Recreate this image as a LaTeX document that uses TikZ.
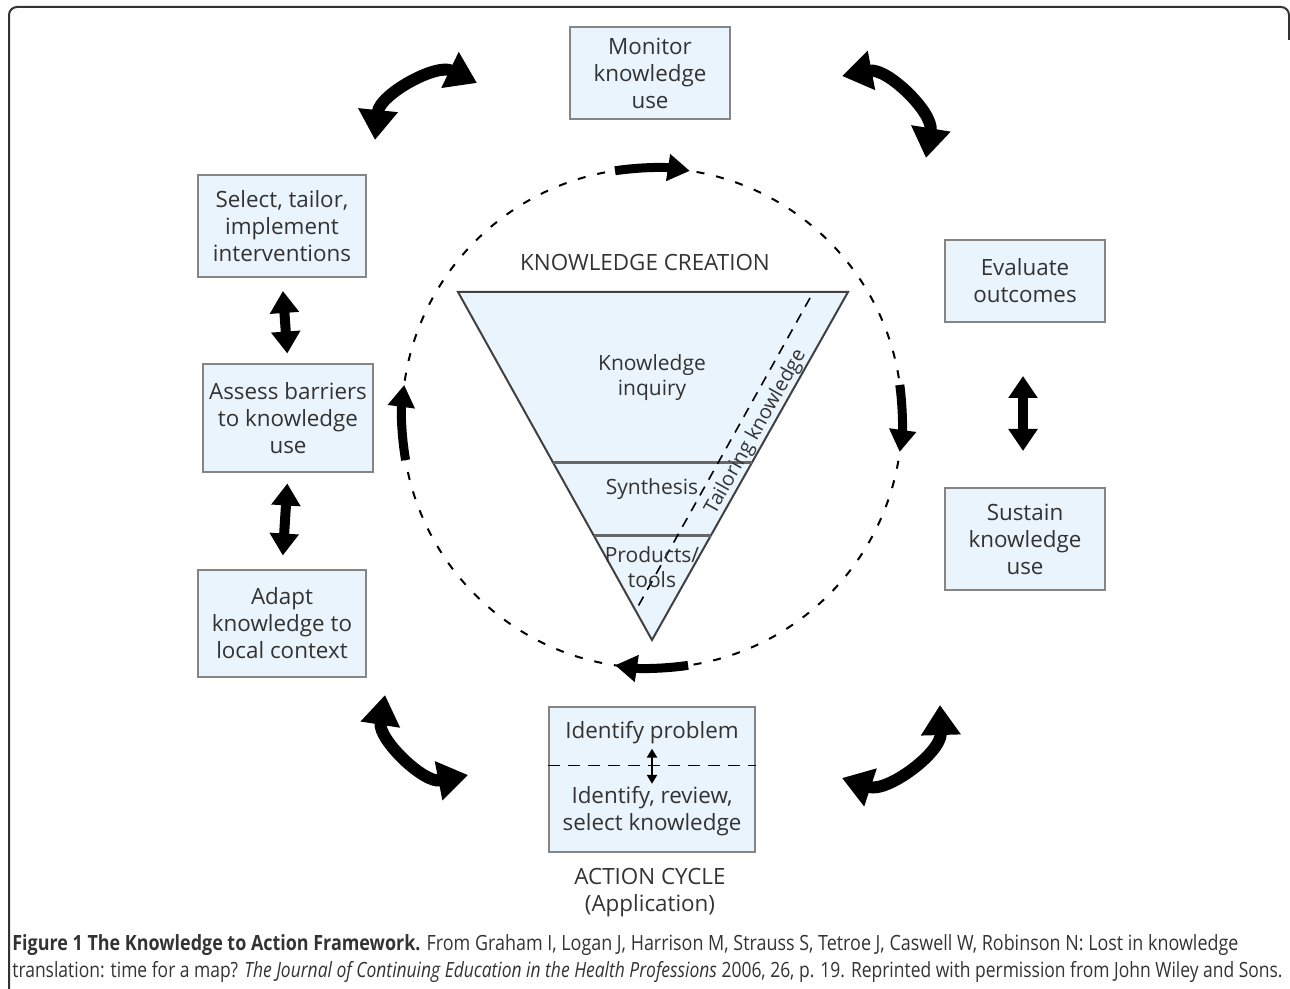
\documentclass[tikz,border=0pt]{standalone}
\usepackage{fontspec}
\usepackage{graphicx}
\setmainfont{Open Sans}
\usepackage{tikz}
\usetikzlibrary{arrows.meta,calc}

\definecolor{boxfill}{HTML}{EAF4FC}
\definecolor{boxline}{HTML}{858585}
\definecolor{inktext}{HTML}{333333}

\tikzset{
  stage/.style={draw=boxline, fill=boxfill, line width=1pt, align=center,
    text=inktext, inner sep=0pt, font=\fontsize{11.2}{13.5}\selectfont},
  plain/.style={align=center, text=inktext, inner sep=0pt,
    font=\fontsize{11.2}{13.5}\selectfont},
  funtext/.style={align=center, text=inktext, inner sep=0pt,
    font=\fontsize{10.5}{12.5}\selectfont},
  funnel/.style={draw=black!75, fill=boxfill, line width=1pt},
  ring/.style={dash pattern=on 4pt off 6pt, line width=1pt},
  cycarrow/.style={line width=4.5pt, -{Triangle[length=11pt,width=13pt]}},
  linkarrow/.style={line width=5pt, {Triangle[length=11pt,width=14pt]}-{Triangle[length=11pt,width=14pt]}},
  swing/.style={line width=6pt, {Triangle[length=15pt,width=19pt]}-{Triangle[length=15pt,width=19pt]}},
  caption/.style={anchor=west, inner sep=0pt, text=inktext,
    font=\fontsize{10.5}{13.5}\selectfont},
}

\begin{document}
\begin{tikzpicture}[x=0.5pt,y=-0.5pt]
    \useasboundingbox (0,0) rectangle (1290,989);

    % outer frame
    \draw[line width=1pt, black!80, rounded corners=4pt] (9,989) -- (9,7) -- (1289,7) -- (1289,40);

    % dashed action ring
    \coordinate (hub) at (652,418);
    \draw[ring] (hub) circle[radius=125pt];

    % knowledge funnel
    \coordinate (ftl) at (458,292);
    \coordinate (ftr) at (848,292);
    \coordinate (fap) at (652,640);
    \draw[funnel] (ftl) -- (ftr) -- (fap) -- cycle;
    \draw[line width=1.5pt, black!60] ($(ftl)!0.491!(fap)$) -- ($(ftr)!0.491!(fap)$);
    \draw[line width=1.5pt, black!60] ($(ftl)!0.701!(fap)$) -- ($(ftr)!0.701!(fap)$);
    \draw[line width=0.8pt, dash pattern=on 5pt off 4pt] (810,298) -- (636,610);

    \node[plain] (kc) at (645,262) {KNOWLEDGE CREATION};
    \node[funtext] (inquiry) at (652,378) {Knowledge\\inquiry};
    \node[funtext] (synth) at (652,489) {Synthesis};
    \node[funtext] (prod) at (652,567) {Products/\\tools};
    \node[funtext, font=\fontsize{10}{12}\selectfont, rotate=60.6] (tailor) at (756,432) {Tailoring knowledge};

    % action cycle boxes
    \node[stage, minimum width=80pt, minimum height=46pt] (monitor) at (650,73) {Monitor\\knowledge\\use};
    \node[stage, minimum width=84pt, minimum height=51pt] (select) at (282,226) {Select, tailor,\\implement\\interventions};
    \node[stage, minimum width=85pt, minimum height=53.5pt] (assess) at (288,418) {Assess barriers\\to knowledge\\use};
    \node[stage, minimum width=84pt, minimum height=53.5pt] (adapt) at (282,623) {Adapt\\knowledge to\\local context};
    \node[stage, minimum width=80pt, minimum height=41pt] (evaluate) at (1025,281) {Evaluate\\outcomes};
    \node[stage, minimum width=80pt, minimum height=51pt] (sustain) at (1025,539) {Sustain\\knowledge\\use};
    \node[stage, minimum width=103pt, minimum height=72.5pt] (ident) at (652,779) {};
    \node[plain] (problem) at (652,733) {Identify problem};
    \node[plain] (review) at (652,811) {Identify, review,\\select knowledge};
    \draw[line width=0.8pt, dash pattern=on 6pt off 4pt]
      ($(ident.north west)!0.407!(ident.south west)$) -- ($(ident.north east)!0.407!(ident.south east)$);
    \draw[line width=1.2pt, {Triangle[length=4.5pt,width=5pt]}-{Triangle[length=4.5pt,width=5pt]}, shorten <=2pt, shorten >=1pt] (problem.south) -- (review.north);

    \node[plain] (cycle) at (650,893) {ACTION CYCLE\\(Application)};

    % links between boxes
    \draw[linkarrow, shorten <=6.5pt, shorten >=5pt] (select.south) -- (assess.north);
    \draw[linkarrow, shorten <=5.5pt, shorten >=6.5pt] (assess.south) -- (adapt.north);
    \draw[linkarrow, shorten <=26.5pt, shorten >=18pt] ([xshift=-1pt]evaluate.south) -- ([xshift=-1pt]sustain.north);

    % arrows on the ring
    \draw[cycarrow] ([shift={(98.5:125pt)}]hub) arc[start angle=98.5, end angle=81.3, radius=125pt];
    \draw[cycarrow] ([shift={(7.6:125pt)}]hub) arc[start angle=7.6, end angle=-7.8, radius=125pt];
    \draw[cycarrow] ([shift={(-81.7:125pt)}]hub) arc[start angle=-81.7, end angle=-98.5, radius=125pt];
    \draw[cycarrow] ([shift={(189.7:125pt)}]hub) arc[start angle=189.7, end angle=172.4, radius=125pt];

    % swinging arrows between the outer steps
    \coordinate (swa) at (375,140);
    \coordinate (swb) at (477,83);
    \coordinate (swc) at (842,76);
    \coordinate (swd) at (926,158);
    \coordinate (swe) at (940,705);
    \coordinate (swf) at (842,778);
    \coordinate (swg) at (468,775);
    \coordinate (swh) at (385,695);
    \draw[swing] (swa) to[bend left=55] (swb);
    \draw[swing] (swc) to[bend left=55] (swd);
    \draw[swing] (swe) to[bend left=55] (swf);
    \draw[swing] (swg) to[bend left=55] (swh);

    % caption
    \node[caption] (capone) at (12,945) {\resizebox{613pt}{\height}{\textbf{Figure 1 The Knowledge to Action Framework.} From Graham I, Logan J, Harrison M, Strauss S, Tetroe J, Caswell W, Robinson N: Lost in knowledge}};
    \node[caption] (captwo) at (12,972) {\resizebox{635pt}{\height}{translation: time for a map? \textit{The Journal of Continuing Education in the Health Professions} 2006, 26, p. 19. Reprinted with permission from John Wiley and Sons.}};

\end{tikzpicture}
\end{document}
